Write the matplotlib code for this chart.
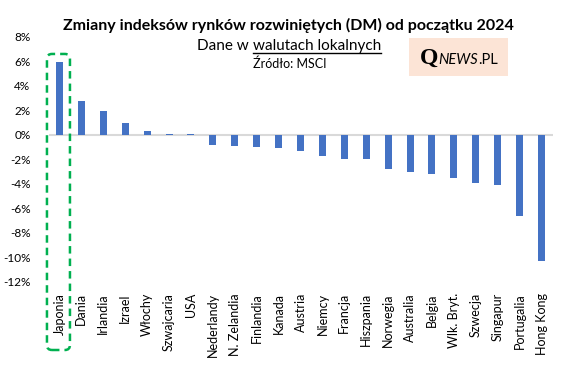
import matplotlib
matplotlib.use("Agg")
import matplotlib.pyplot as plt
from matplotlib.patches import FancyBboxPatch, Rectangle
from matplotlib.lines import Line2D

plt.rcParams['font.family'] = ['Lato', 'DejaVu Sans']

# dane (zmiana w %, od poczatku 2024)
kraje = ["Japonia", "Dania", "Irlandia", "Izrael", "Włochy", "Szwajcaria", "USA",
         "Nederlandy", "N. Zelandia", "Finlandia", "Kanada", "Austria", "Niemcy",
         "Francja", "Hiszpania", "Norwegia", "Australia", "Belgia", "Wlk. Bryt.",
         "Szwecja", "Singapur", "Portugalia", "Hong Kong"]
zmiany = [5.9, 2.75, 1.95, 1.0, 0.35, 0.1, 0.1,
          -0.8, -0.9, -1.0, -1.1, -1.35, -1.75,
          -1.95, -1.95, -2.75, -3.0, -3.2, -3.5,
          -3.95, -4.1, -6.6, -10.3]
yticks = [8, 6, 4, 2, 0, -2, -4, -6, -8, -10, -12]

W, H = 567, 369
fig = plt.figure(figsize=(W/100, H/100), dpi=100)
ax = fig.add_axes([48.5/W, 1-282/H, (552.5-48.5)/W, (282-36.7)/H])

x = list(range(len(kraje)))
ax.bar(x, zmiany, width=0.32, color="#4472C4", zorder=3)
ax.axhline(0, color="#D9D9D9", lw=1.5, zorder=2)
ax.set_xlim(-0.5, len(kraje)-0.5)
ax.set_ylim(-12, 8)
ax.set_yticks(yticks)
ax.set_yticklabels([f"{v}%" for v in yticks], fontsize=8.5)
ax.set_xticks(x)
ax.set_xticklabels(kraje, rotation=90, fontsize=9)
ax.tick_params(length=0)
ax.tick_params(axis='y', pad=13)
ax.tick_params(axis='x', pad=8)
for s in ax.spines.values():
    s.set_visible(False)

# zielona ramka wokol Japonii (w pikselach)
fig.canvas.draw()
r = fig.canvas.get_renderer()
cx, cy = ax.transData.transform((x[0], zmiany[0]))
x0, x1 = cx - 12.5, cx + 10.5
y_top = cy + 8.5
y_bot = H - 350
box = FancyBboxPatch((x0, y_bot), x1 - x0, y_top - y_bot,
                     boxstyle="round,pad=0,rounding_size=5",
                     fill=False, ec="#00B050", lw=1.8, ls=(0, (3, 2)),
                     transform=None, clip_on=False, zorder=4)
fig.add_artist(box)

# tytuly
fig.text(288/W, 1-25/H, "Zmiany indeksów rynków rozwiniętych (DM) od początku 2024",
         ha="center", va="center", fontsize=11.5, fontweight="bold")

t_full = fig.text(289/W, 1-46/H, "Dane w walutach lokalnych", ha="center", va="center",
                  fontsize=11, alpha=0)
bb = t_full.get_window_extent(r)
t_u = fig.text(bb.x1/W, 1-46/H, "walutach lokalnych", ha="right", va="center", fontsize=11)
bu = t_u.get_window_extent(r)
fig.text(bu.x0/W, 1-46/H, "Dane w ", ha="right", va="center", fontsize=11)
fig.add_artist(Line2D([bu.x0/W, bu.x1/W], [1-52.5/H, 1-52.5/H], color="black", lw=1))

fig.text(290/W, 1-64/H, "Źródło: MSCI", ha="center", va="center", fontsize=9)

# logo
fig.add_artist(Rectangle((409/W, 1-76/H), 99/W, 38/H, transform=fig.transFigure,
                         fc="#FCE4D6", ec="none"))
tq = fig.text(420/W, 1-64/H, "Q", ha="left", va="baseline", fontsize=17,
              family="Liberation Serif", fontweight="bold")
bq = tq.get_window_extent(r)
tn = fig.text(bq.x1/W, 1-64/H, "NEWS", ha="left", va="baseline", fontsize=10.5,
              style="italic")
bn = tn.get_window_extent(r)
fig.text(bn.x1/W, 1-64/H, ".PL", ha="left", va="baseline", fontsize=10.5)

fig.savefig("out.png", dpi=100)
